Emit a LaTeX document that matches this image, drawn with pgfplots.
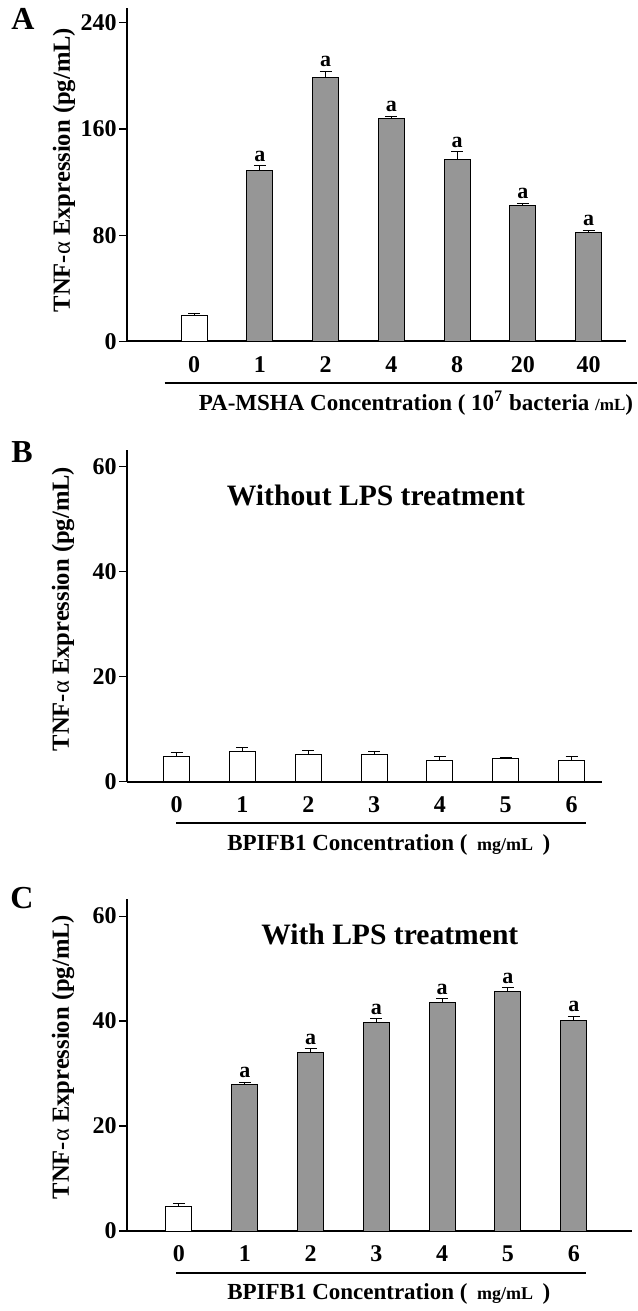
\documentclass[border=0pt]{standalone}
\usepackage{pgfplots}
\pgfplotsset{compat=1.18}
\usepackage{fontspec}
\setmainfont{Liberation Serif}
\definecolor{bargray}{RGB}{150,150,150}
\newcommand{\tl}{\fontsize{12}{14}\selectfont\bfseries}
\newcommand{\yl}{\fontsize{12.3}{14}\selectfont\bfseries}
\newcommand{\ttl}{\fontsize{14.8}{17}\selectfont\bfseries}
\newcommand{\letter}{\fontsize{16}{18}\selectfont\bfseries}
\pgfplotsset{
 panel/.style={
  scale only axis, anchor=south west,
  axis x line*=bottom, axis y line*=left,
  axis line style={line width=1pt},
  ymin=0,
  tick align=outside, major tick length=4pt,
  ytick style={line width=0.6pt, black},
  xtick style={draw=none},
  xtick={0,...,6},
  ticklabel style={font=\tl},
  /pgf/number format/assume math mode=true,
  xticklabel style={anchor=center, yshift=-7.5pt},
  yticklabel style={anchor=east, inner sep=0pt, xshift=-1pt},
  clip=false,
 },
 bars/.style={ybar, bar shift=0pt, bar width=13pt, draw=black, line width=0.5pt,
  error bars/y dir=plus, error bars/y explicit,
  error bars/error bar style={line width=0.5pt, black},
  error bars/error mark options={rotate=90, mark size=3pt, line width=0.5pt, black}},
 alab/.style={draw=none, mark=none, nodes near coords={a},
  nodes near coords style={anchor=south, inner sep=0pt, yshift=2pt, font=\fontsize{11}{12}\selectfont\bfseries}},
}
\begin{document}
\begin{tikzpicture}
\path[use as bounding box] (0,0) rectangle (318.5pt,-655.5pt);
% ---------------- Panel A
\begin{axis}[panel, at={(63.5pt,-170.65pt)}, width=249.3pt, height=166.5pt,
  xmin=-1.02, xmax=6.564, ymax=251,
  ytick={0,80,160,240},
  xticklabels={0,1,2,4,8,20,40}]
\addplot[bars, fill=white] coordinates {(0,19.5) += (0,1.7)};
\addplot[bars, fill=bargray] coordinates {
 (1,128.7) += (0,3.7)
 (2,198.9) += (0,4.5)
 (3,167.8) += (0,1.8)
 (4,137.0) += (0,5.7)
 (5,102.3) += (0,1.8)
 (6,81.8) += (0,1.7)};
\addplot[alab] coordinates {(1,132.4) (2,203.4) (3,169.6) (4,142.7) (5,104.1) (6,83.5)};
\end{axis}
\node[font=\letter] at (11.5pt,-9.5pt) {A};
\node[font=\yl, rotate=90] at (32pt,-85pt) {TNF-{\mdseries α} Expression (pg/mL)};
\draw[line width=1pt] (82.25pt,-191.35pt) -- (318.5pt,-191.35pt);
\node[font=\fontsize{11.5}{13}\selectfont\bfseries] at (208pt,-201.5pt) {PA-MSHA Concentration ( 10\textsuperscript{7} bacteria {\fontsize{8.5}{10}\selectfont /mL})};
% ---------------- Panel B
\begin{axis}[panel, at={(63.5pt,-390.85pt)}, width=237.3pt, height=165.85pt,
  xmin=-0.754, xmax=6.457, ymax=63.2,
  ytick={0,20,40,60},
  xticklabels={0,1,2,3,4,5,6}]
\addplot[bars, fill=white] coordinates {
 (0,4.83) += (0,0.76)
 (1,5.71) += (0,0.77)
 (2,5.27) += (0,0.70)
 (3,5.27) += (0,0.45)
 (4,4.13) += (0,0.70)
 (5,4.38) += (0,0.20)
 (6,4.13) += (0,0.70)};
\end{axis}
\node[font=\letter] at (11pt,-226.25pt) {B};
\node[font=\ttl] at (188pt,-247.5pt) {Without LPS treatment};
\node[font=\yl, rotate=90] at (31.5pt,-304.5pt) {TNF-{\mdseries α} Expression (pg/mL)};
\draw[line width=1pt] (88pt,-411.65pt) -- (292.9pt,-411.65pt);
\node[font=\fontsize{11.5}{13}\selectfont\bfseries] at (194.4pt,-422.5pt) {BPIFB1 Concentration ( \,{\fontsize{9}{10}\selectfont mg/mL}\, )};
% ---------------- Panel C
\begin{axis}[panel, at={(63.5pt,-615.5pt)}, width=252.5pt, height=165.85pt,
  xmin=-0.79, xmax=6.885, ymax=63.2,
  ytick={0,20,40,60},
  xticklabels={0,1,2,3,4,5,6}]
\addplot[bars, fill=white] coordinates {(0,4.76) += (0,0.51)};
\addplot[bars, fill=bargray] coordinates {
 (1,27.94) += (0,0.44)
 (2,34.10) += (0,0.63)
 (3,39.75) += (0,0.69)
 (4,43.56) += (0,0.69)
 (5,45.65) += (0,0.70)
 (6,40.19) += (0,0.76)};
\addplot[alab] coordinates {(1,28.38) (2,34.73) (3,40.44) (4,44.25) (5,46.35) (6,40.95)};
\end{axis}
\node[font=\letter] at (11pt,-449pt) {C};
\node[font=\ttl] at (194.9pt,-467pt) {With LPS treatment};
\node[font=\yl, rotate=90] at (31.5pt,-528.5pt) {TNF-{\mdseries α} Expression (pg/mL)};
\draw[line width=1pt] (88pt,-636.35pt) -- (292.9pt,-636.35pt);
\node[font=\fontsize{11.5}{13}\selectfont\bfseries] at (194.4pt,-647pt) {BPIFB1 Concentration ( \,{\fontsize{9}{10}\selectfont mg/mL}\, )};
\end{tikzpicture}
\end{document}
